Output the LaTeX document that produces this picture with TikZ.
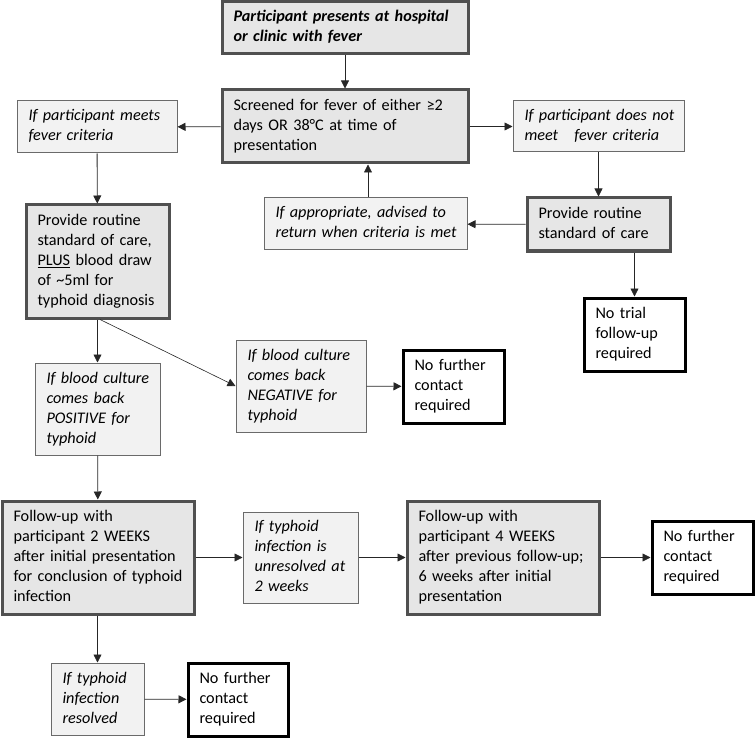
\documentclass[tikz,border=0pt]{standalone}
\usepackage{fontspec}
\setmainfont{Carlito}
\usetikzlibrary{arrows.meta,calc}
\definecolor{thickborder}{HTML}{505050}
\definecolor{thickfill}{HTML}{E6E6E6}
\definecolor{thinborder}{HTML}{6A6A6A}
\definecolor{thinfill}{HTML}{F2F2F2}
\newcommand\txtlines[1]{\begin{tabular}{@{}l@{}}#1\end{tabular}}
\tikzset{
  basebox/.style={rectangle, align=left, inner xsep=11.5pt, inner ysep=0pt,
    font=\fontsize{16.2}{20}\selectfont},
  thickbox/.style={basebox, draw=thickborder, line width=3pt, fill=thickfill},
  thinbox/.style={basebox, draw=thinborder, line width=1pt, fill=thinfill,
    font=\fontsize{16.2}{20}\selectfont\itshape},
  endbox/.style={basebox, draw=black, line width=3pt, fill=white},
  arr/.style={draw=black!85, line width=0.8pt, -{Triangle[length=8pt,width=8pt]}},
  sz/.style 2 args={minimum width=#1pt, minimum height=#2pt, text width=#1pt-23pt}
}
\begin{document}
\begin{tikzpicture}[x=1pt,y=-1pt]
\useasboundingbox (0,0) rectangle (755,738);

\node[thickbox, sz={246}{52}, font=\fontsize{16.2}{20}\selectfont\bfseries\itshape] (b1) at (345,28)
  {\txtlines{Participant presents at hospital\\or clinic with fever}};
\node[thickbox, sz={246}{73}] (b2) at (345,126.5)
  {\txtlines{Screened for fever of either ≥2\\days OR 38°C at time of\\presentation}};
\node[thinbox, sz={160}{52}] (l1) at (97,127)
  {\txtlines{If participant meets\\fever criteria}};
\node[thinbox, sz={171}{51}] (r1) at (598.5,126.5)
  {\txtlines{If participant does not\\meet\ \ \ fever criteria}};
\node[thickbox, sz={143}{113}] (b3) at (97.5,261.5)
  {\txtlines{Provide routine\\standard of care,\\\underline{PLUS} blood draw\\of \textasciitilde5ml for\\typhoid diagnosis}};
\node[thinbox, sz={203}{52}] (app) at (365.5,224)
  {\txtlines{If appropriate, advised to\\return when criteria is met}};
\node[thickbox, sz={143}{53}] (r2) at (598.5,224.5)
  {\txtlines{Provide routine\\standard of care}};
\node[endbox, sz={101}{73}] (notrial) at (634.5,334.5)
  {\txtlines{No trial\\follow-up\\required}};
\node[thinbox, sz={125}{92}] (pos) at (97.5,409)
  {\txtlines{If blood culture\\comes back\\POSITIVE for\\typhoid}};
\node[thinbox, sz={130}{92}] (neg) at (301,386)
  {\txtlines{If blood culture\\comes back\\NEGATIVE for\\typhoid}};
\node[endbox, sz={101}{73}] (nf1) at (453.5,386.5)
  {\txtlines{No further\\contact\\required}};
\node[thickbox, sz={192}{113}] (fu2) at (98,557.5)
  {\txtlines{Follow-up with\\participant 2 WEEKS\\after initial presentation\\for conclusion of typhoid\\infection}};
\node[thinbox, sz={115}{91}] (unres) at (300.5,557.5)
  {\txtlines{If typhoid\\infection is\\unresolved at\\2 weeks}};
\node[thickbox, sz={192}{113}] (fu4) at (503,557.5)
  {\txtlines{Follow-up with\\participant 4 WEEKS\\after previous follow-up;\\6 weeks after initial\\presentation}};
\node[endbox, sz={101}{73}] (nf2) at (702.5,557.5)
  {\txtlines{No further\\contact\\required}};
\node[thinbox, sz={93}{72}] (res) at (97.5,699)
  {\txtlines{If typhoid\\infection\\resolved}};
\node[endbox, sz={100}{73}] (nf3) at (238,699.5)
  {\txtlines{No further\\contact\\required}};

\draw[arr] (b1) -- (b2);
\draw[arr] (b2) -- (l1);
\draw[arr] (b2) -- (r1);
\draw[arr] (l1) -- (b3);
\draw[arr] (r1) -- (r2);
\draw[arr] (r2) -- (app);
\coordinate (appup) at ($(app.north)+(2.5,0)$);
\draw[arr] (appup) -- (appup |- b2.south);
\draw[arr] (notrial.north |- r2.south) -- (notrial);
\draw[arr] (b3) -- (pos);
\draw[arr, line width=0.6pt] ($(b3.south)+(2.5,0)$) -- (neg.west);
\draw[arr] (neg) -- (nf1);
\draw[arr] (pos) -- (fu2);
\draw[arr] (fu2) -- (unres);
\draw[arr] (unres) -- (fu4);
\draw[arr] (fu4) -- (nf2);
\draw[arr] (fu2.south -| res.north) -- (res);
\draw[arr] (res) -- (nf3);
\end{tikzpicture}
\end{document}
